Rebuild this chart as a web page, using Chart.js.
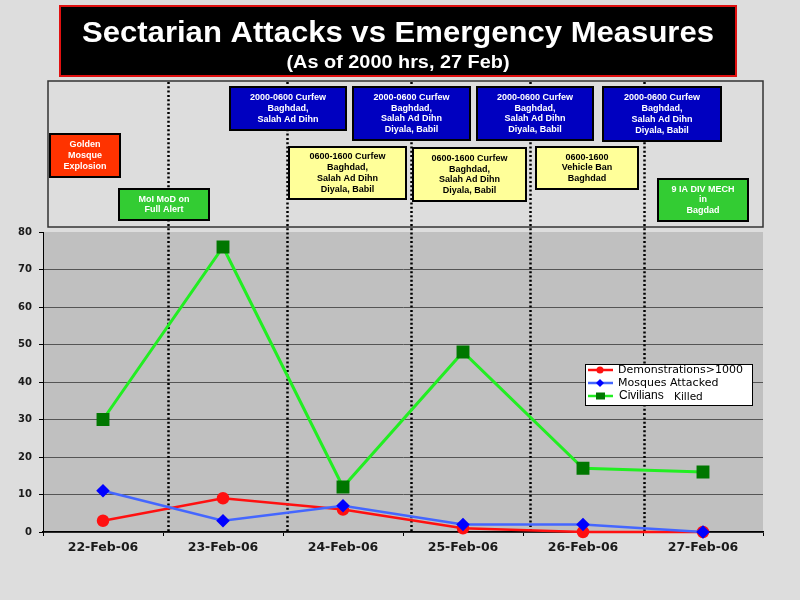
<!DOCTYPE html>
<html>
<head>
<meta charset="utf-8">
<title>Sectarian Attacks vs Emergency Measures</title>
<script src="https://cdn.jsdelivr.net/npm/chart.js@4/dist/chart.umd.min.js"></script>
<style>
	html, body { margin: 0; padding: 0; background: #dddddd; }
	#wrap { width: 800px; height: 600px; position: relative; }
</style>
</head>
<body>
<div id="wrap"><canvas id="myChart" width="800" height="600"></canvas></div>
<script>
/* global Chart */
const categories = ['22-Feb-06', '23-Feb-06', '24-Feb-06', '25-Feb-06', '26-Feb-06', '27-Feb-06'];
const demonstrations = [3, 9, 6, 1, 0, 0];
const mosquesAttacked = [11, 3, 7, 2, 2, 0];
const civiliansKilled = [30, 76, 12, 48, 17, 16];
const yMin = 0;
const yMax = 80;
const yStep = 10;
// category positions of the dotted "measure" dividers
const measureMarks = [0.54, 1.53, 2.57, 3.56, 4.51];

const titleText = 'Sectarian Attacks vs Emergency Measures';
const subtitleText = '(As of 2000 hrs, 27 Feb)';

// annotation boxes above the plot: text lines and kind
const measures = [
	{ kind: 'red', lines: ['Golden', 'Mosque', 'Explosion'] },
	{ kind: 'green', lines: ['MoI MoD on', 'Full Alert'] },
	{ kind: 'blue', lines: ['2000-0600 Curfew', 'Baghdad,', 'Salah Ad Dihn'] },
	{ kind: 'blue', lines: ['2000-0600 Curfew', 'Baghdad,', 'Salah Ad Dihn', 'Diyala, Babil'] },
	{ kind: 'blue', lines: ['2000-0600 Curfew', 'Baghdad,', 'Salah Ad Dihn', 'Diyala, Babil'] },
	{ kind: 'blue', lines: ['2000-0600 Curfew', 'Baghdad,', 'Salah Ad Dihn', 'Diyala, Babil'] },
	{ kind: 'yellow', lines: ['0600-1600 Curfew', 'Baghdad,', 'Salah Ad Dihn', 'Diyala, Babil'] },
	{ kind: 'yellow', lines: ['0600-1600 Curfew', 'Baghdad,', 'Salah Ad Dihn', 'Diyala, Babil'] },
	{ kind: 'yellow', lines: ['0600-1600', 'Vehicle Ban', 'Baghdad'] },
	{ kind: 'green', lines: ['9 IA DIV MECH', 'in', 'Bagdad'] }
];

// layout of those boxes [x, y, w, h]
const boxLayout = [
	[50, 134, 70, 43],
	[119, 189, 90, 31],
	[230, 87, 116, 43],
	[353, 87, 117, 53],
	[477, 87, 116, 53],
	[603, 87, 118, 54],
	[289, 147, 117, 52],
	[413, 148, 113, 53],
	[536, 147, 102, 42],
	[658, 179, 90, 42]
];

const boxStyle = {
	red: { fill: '#ff3300', text: '#ffffff' },
	green: { fill: '#33cc33', text: '#ffffff' },
	blue: { fill: '#0000c0', text: '#ffffff' },
	yellow: { fill: '#ffff99', text: '#000000' }
};

const FONT = '"Liberation Sans", Arial, sans-serif';
const WIDE = '"DejaVu Sans", sans-serif';

// draw text centred at cx and stretched to a given width
function stretchText(ctx, text, cx, y, width) {
	const w = ctx.measureText(text).width;
	ctx.save();
	ctx.translate(cx, y);
	ctx.scale(width / w, 1);
	ctx.textAlign = 'center';
	ctx.fillText(text, 0, 0);
	ctx.restore();
}

const decorPlugin = {
	id: 'decor',
	beforeDraw(chart) {
		const ctx = chart.ctx;
		const area = chart.chartArea;
		ctx.save();
		ctx.fillStyle = '#dddddd';
		ctx.fillRect(0, 0, chart.width, chart.height);

		// title block
		ctx.fillStyle = '#000000';
		ctx.fillRect(59, 5, 678, 72);
		ctx.strokeStyle = '#e01010';
		ctx.lineWidth = 2;
		ctx.strokeRect(60, 6, 676, 70);
		ctx.fillStyle = '#ffffff';
		ctx.textBaseline = 'alphabetic';
		ctx.font = 'bold 29px ' + FONT;
		stretchText(ctx, titleText, 398, 42, 632);
		ctx.font = 'bold 18px ' + FONT;
		stretchText(ctx, subtitleText, 398, 68, 223);

		// annotation panel
		ctx.strokeStyle = '#333333';
		ctx.lineWidth = 1.5;
		ctx.strokeRect(48, 81, 715, 146);

		// plot background
		ctx.fillStyle = '#c0c0c0';
		ctx.fillRect(area.left, area.top, area.right - area.left, area.bottom - area.top);
		ctx.restore();
	},
	beforeDatasetsDraw(chart) {
		const ctx = chart.ctx;
		const xScale = chart.scales.x;
		ctx.save();
		ctx.strokeStyle = '#000000';
		ctx.lineWidth = 2.5;
		ctx.setLineDash([2, 2.3]);
		measureMarks.forEach((m) => {
			const x = Math.round(xScale.getPixelForValue(m)) + 0.5;
			ctx.beginPath();
			ctx.moveTo(x, 82);
			ctx.lineTo(x, chart.chartArea.bottom);
			ctx.stroke();
		});
		ctx.restore();
	},
	afterDraw(chart) {
		const ctx = chart.ctx;
		ctx.save();

		// annotation boxes
		measures.forEach((m, i) => {
			const [x, y, w, h] = boxLayout[i];
			const st = boxStyle[m.kind];
			ctx.fillStyle = st.fill;
			ctx.fillRect(x, y, w, h);
			ctx.strokeStyle = '#000000';
			ctx.lineWidth = 2;
			ctx.strokeRect(x, y, w, h);
			ctx.fillStyle = st.text;
			ctx.font = 'bold 9px ' + FONT;
			ctx.textAlign = 'center';
			ctx.textBaseline = 'middle';
			const lh = 10.7;
			const startY = y + h / 2 - (m.lines.length - 1) * lh / 2;
			m.lines.forEach((line, j) => {
				ctx.fillText(line, x + w / 2, startY + j * lh);
			});
		});

		// legend
		const lx = 585, ly = 364, lw = 167, lh = 41;
		ctx.fillStyle = '#ffffff';
		ctx.fillRect(lx, ly, lw, lh);
		ctx.strokeStyle = '#000000';
		ctx.lineWidth = 1;
		ctx.strokeRect(lx + 0.5, ly + 0.5, lw, lh);
		const rows = [370, 383, 396];
		chart.data.datasets.forEach((ds, i) => {
			const y = rows[i];
			ctx.strokeStyle = ds.borderColor;
			ctx.lineWidth = 2.5;
			ctx.beginPath();
			ctx.moveTo(588, y);
			ctx.lineTo(613, y);
			ctx.stroke();
			ctx.fillStyle = ds.pointBackgroundColor;
			ctx.beginPath();
			if (ds.pointStyle === 'circle') {
				ctx.arc(600, y, 3.5, 0, Math.PI * 2);
			} else if (ds.pointStyle === 'rectRot') {
				ctx.moveTo(600, y - 4);
				ctx.lineTo(604, y);
				ctx.lineTo(600, y + 4);
				ctx.lineTo(596, y);
				ctx.closePath();
			} else {
				ctx.rect(596, y - 3.5, 9, 7);
			}
			ctx.fill();
			ctx.fillStyle = '#000000';
			ctx.textAlign = 'left';
			ctx.textBaseline = 'middle';
			if (i === 2) {
				ctx.font = '12px ' + FONT;
				ctx.fillText('Civilians', 619, y);
				ctx.font = '10.5px ' + WIDE;
				ctx.fillText('Killed', 674, y + 1);
			} else {
				ctx.font = '11px ' + WIDE;
				ctx.fillText(ds.label, 618, y);
			}
		});
		ctx.restore();
	}
};

new Chart(document.getElementById('myChart'), {
	type: 'line',
	data: {
		labels: categories,
		datasets: [
			{
				label: 'Demonstrations>1000',
				data: demonstrations,
				borderColor: '#ff1010',
				backgroundColor: '#ff1010',
				pointBackgroundColor: '#ff1010',
				pointBorderColor: '#ff1010',
				pointStyle: 'circle',
				pointRadius: 5,
				borderWidth: 2.5,
				order: 2,
				clip: false
			},
			{
				label: 'Mosques Attacked',
				data: mosquesAttacked,
				borderColor: '#4466ff',
				backgroundColor: '#0000ff',
				pointBackgroundColor: '#0000ff',
				pointBorderColor: '#0000ff',
				pointStyle: 'rectRot',
				pointRadius: 5,
				borderWidth: 2.5,
				order: 1,
				clip: false
			},
			{
				label: 'Civilians Killed',
				data: civiliansKilled,
				borderColor: '#22ee22',
				backgroundColor: '#007700',
				pointBackgroundColor: '#007700',
				pointBorderColor: '#007700',
				pointStyle: 'rect',
				pointRadius: 7,
				borderWidth: 3,
				order: 0,
				clip: false
			}
		]
	},
	options: {
		responsive: false,
		animation: false,
		layout: { padding: { top: 232, right: 37, left: 0, bottom: 0 } },
		plugins: {
			legend: { display: false },
			title: { display: false },
			tooltip: { enabled: false }
		},
		elements: { line: { tension: 0 } },
		scales: {
			x: {
				offset: true,
				afterFit: (s) => { s.height = 68; },
				grid: {
					offset: true,
					drawOnChartArea: false,
					tickLength: 4,
					tickColor: '#000000'
				},
				border: { color: '#000000', width: 1.5 },
				ticks: {
					padding: 4,
					color: '#1a1a1a',
					font: { family: WIDE, weight: 'bold', size: 12.5 }
				}
			},
			y: {
				min: yMin,
				max: yMax,
				afterFit: (s) => { s.width = 43; },
				grid: {
					color: (c) => (c.tick && c.tick.value === yMax ? 'rgba(0,0,0,0)' : '#555555'),
					tickLength: 4,
					tickColor: '#000000'
				},
				border: { color: '#000000', width: 1 },
				ticks: {
					stepSize: yStep,
					padding: 7,
					color: '#1a1a1a',
					font: { family: WIDE, weight: 'bold', size: 10 }
				}
			}
		}
	},
	plugins: [decorPlugin]
});
</script>
</body>
</html>
